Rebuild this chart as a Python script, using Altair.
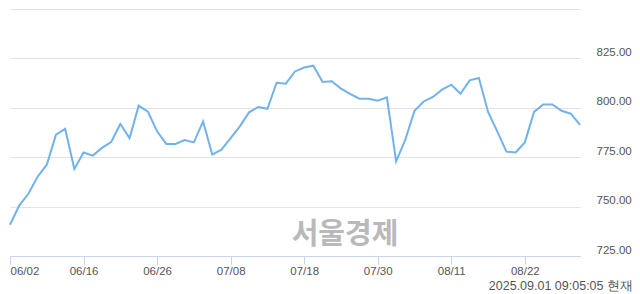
import altair as alt
import pandas as pd

dates = ["06/02","06/04","06/05","06/09","06/10","06/11","06/12","06/13","06/16","06/17",
         "06/18","06/19","06/20","06/23","06/24","06/25","06/26","06/27","06/30","07/01",
         "07/02","07/03","07/04","07/07","07/08","07/09","07/10","07/11","07/14","07/15",
         "07/16","07/17","07/18","07/21","07/22","07/23","07/24","07/25","07/28","07/29",
         "07/30","07/31","08/01","08/04","08/05","08/06","08/07","08/08","08/11","08/12",
         "08/13","08/14","08/18","08/19","08/20","08/21","08/22","08/25","08/26","08/27",
         "08/28","08/29","09/01"]
values = [740.8, 750.5, 756.5, 765.1, 771.2, 786.4, 789.3, 769.0, 777.4, 775.8,
          779.7, 782.7, 791.8, 784.7, 801.1, 798.0, 788.1, 781.7, 781.7, 783.7,
          782.5, 793.1, 776.3, 778.8, 784.7, 790.6, 797.7, 800.4, 799.5, 812.7,
          812.2, 818.4, 820.4, 821.3, 813.1, 813.4, 809.7, 807.0, 804.6, 804.6,
          803.6, 805.3, 772.9, 783.9, 798.5, 803.2, 805.5, 809.2, 811.7, 807.1,
          813.9, 815.1, 797.9, 788.1, 777.8, 777.4, 782.5, 797.9, 801.7, 801.7,
          798.5, 797.0, 791.4]
tick_dates = ["06/02", "06/16", "06/26", "07/08", "07/18", "07/30", "08/11", "08/22"]
y_values = [725, 750, 775, 800, 825, 850]
watermark = "서울경제"
stamp = "2025.09.01 09:05:05 현재"

df = pd.DataFrame({"date": dates, "value": values})

FONT = "Liberation Sans"

line = alt.Chart(df).mark_line(color="#72b2ec", strokeWidth=2).encode(
    x=alt.X("date:O", sort=None,
            scale=alt.Scale(type="point", padding=0),
            axis=alt.Axis(values=tick_dates, labelAngle=0, title=None,
                          domainColor="#c9d5ea", tickColor="#c9d5ea", tickSize=8,
                          labelPadding=1, labelFlush=True, labelFont=FONT,
                          labelFontSize=11.5, labelColor="#555555", grid=False)),
    y=alt.Y("value:Q",
            scale=alt.Scale(domain=[725, 850], nice=False, zero=False),
            axis=alt.Axis(values=y_values, orient="right", title=None,
                          ticks=False, domain=False, grid=True,
                          gridColor="#e3e3e3", labelAlign="left", labelPadding=16,
                          labelOffset=-6, labelFont=FONT, labelFontSize=11.5,
                          labelColor="#555555",
                          labelExpr="datum.value >= 850 ? '' : format(datum.value, '.2f')")),
)

wm = alt.Chart(pd.DataFrame({"t": [watermark]})).mark_text(
    font="Noto Sans CJK KR", fontSize=29, fontWeight="bold", color="#b9b9b9",
    align="center", baseline="middle"
).encode(x=alt.value(335), y=alt.value(226), text="t:N")

ts = alt.Chart(pd.DataFrame({"t": [stamp]})).mark_text(
    font=FONT, fontSize=12.5, color="#555555", align="right", baseline="middle"
).encode(x=alt.value(623), y=alt.value(277), text="t:N")

chart = alt.layer(wm, line, ts).properties(
    width=570, height=247,
    autosize=alt.AutoSizeParams(type="none"),
    padding={"left": 10, "top": 9, "right": 60, "bottom": 38},
).configure_view(stroke=None)

chart.save("out.html", embed_options={"renderer": "svg", "actions": False})
